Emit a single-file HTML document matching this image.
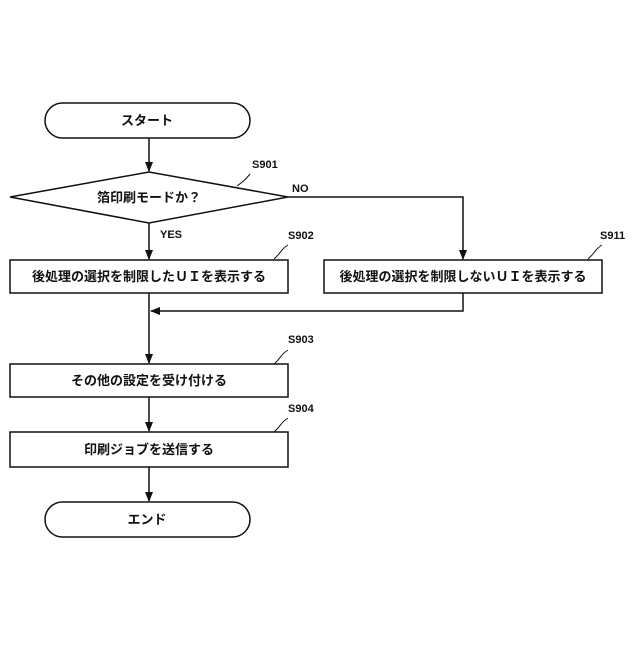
<!DOCTYPE html>
<html><head><meta charset="utf-8"><style>
body{margin:0;background:#fff}
svg text{font-family:"Liberation Sans","Noto Sans CJK JP",sans-serif;font-weight:bold;fill:#111}
</style></head><body>
<svg width="640" height="640" viewBox="0 0 640 640" xmlns="http://www.w3.org/2000/svg">
<defs><marker id="a" markerWidth="10" markerHeight="10" refX="9" refY="5" orient="auto" markerUnits="userSpaceOnUse"><path d="M0,1 L10,5 L0,9 z" fill="#111"/></marker></defs>
<g stroke="#111" stroke-width="1.5" fill="#fff">
<rect x="45" y="103" width="205" height="35" rx="17.5"/>
<polygon points="10,197 149,172 288,197 149,223"/>
<rect x="10" y="260" width="278" height="33"/>
<rect x="324" y="260" width="278" height="33"/>
<rect x="10" y="364" width="278" height="33"/>
<rect x="10" y="432" width="278" height="35"/>
<rect x="45" y="502" width="205" height="35" rx="17.5"/>
<g fill="none">
<line x1="149" y1="138" x2="149" y2="171" marker-end="url(#a)"/>
<line x1="149" y1="223" x2="149" y2="259" marker-end="url(#a)"/>
<polyline points="288,197 463,197 463,259" marker-end="url(#a)"/>
<line x1="149" y1="293" x2="149" y2="363" marker-end="url(#a)"/>
<polyline points="463,293 463,311 151,311" marker-end="url(#a)"/>
<line x1="149" y1="397" x2="149" y2="431" marker-end="url(#a)"/>
<line x1="149" y1="467" x2="149" y2="501" marker-end="url(#a)"/>
<path d="M237,186 C245,180 245,180 250,174 M274,259 C282,252 280,250 288,245 M588,259 C596,252 594,250 602,245 M274,364 C282,357 280,355 288,350 M274,432 C282,425 280,423 288,418" stroke-width="1"/>
</g></g>
<g font-size="13">
<text x="147" y="125" text-anchor="middle">スタート</text>
<text x="149" y="202" text-anchor="middle">箔印刷モードか？</text>
<text x="149" y="281" text-anchor="middle">後処理の選択を制限したＵＩを表示する</text>
<text x="463" y="281" text-anchor="middle">後処理の選択を制限しないＵＩを表示する</text>
<text x="149" y="385" text-anchor="middle">その他の設定を受け付ける</text>
<text x="149" y="454" text-anchor="middle">印刷ジョブを送信する</text>
<text x="147" y="524" text-anchor="middle">エンド</text>
</g>
<g font-size="11">
<text x="252" y="168">S901</text>
<text x="292" y="192">NO</text>
<text x="160" y="238">YES</text>
<text x="288" y="239">S902</text>
<text x="600" y="239">S911</text>
<text x="288" y="343">S903</text>
<text x="288" y="412">S904</text>
</g>
</svg>
</body></html>
